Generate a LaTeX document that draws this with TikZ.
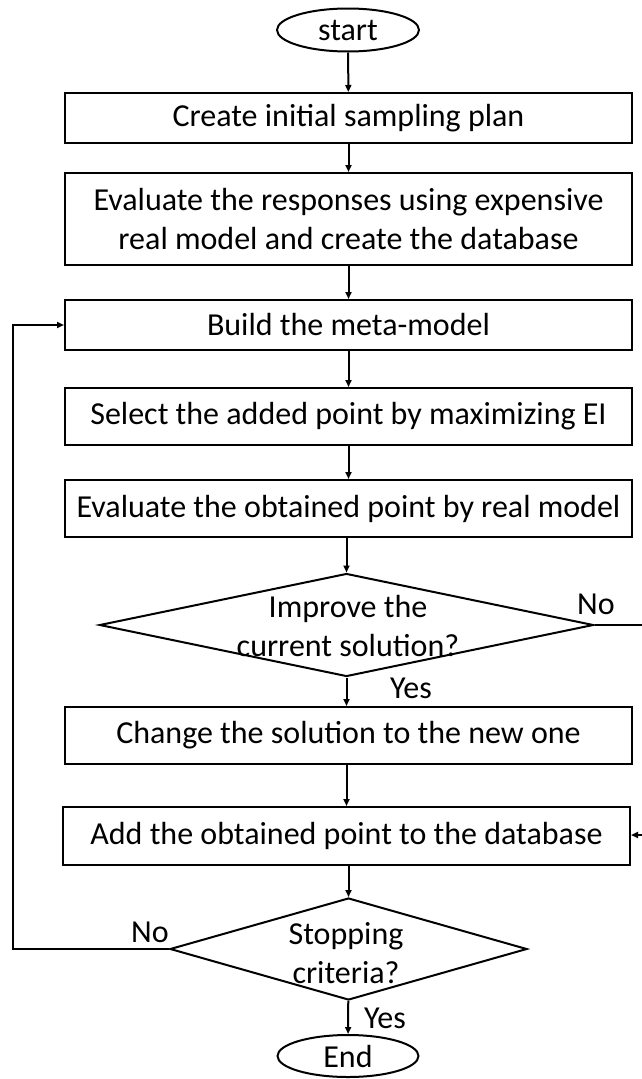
\documentclass[tikz,border=0pt]{standalone}
\usepackage{fontspec}
\setmainfont{Carlito}
\usetikzlibrary{shapes.geometric,arrows.meta}
\begin{document}
\begin{tikzpicture}[x=1pt,y=-1pt,
  every node/.style={font=\fontsize{32}{39}\selectfont},
  box/.style={draw,line width=2pt,rectangle,minimum width=567pt,inner sep=0pt,align=center},
  term/.style={draw,line width=2pt,ellipse,minimum width=142pt,minimum height=43pt,inner sep=0pt},
  dec/.style={draw,line width=2pt,diamond,inner sep=0pt},
  lbl/.style={align=center,inner sep=0pt},
  arr/.style={line width=2pt,-{Triangle[length=7pt,width=6pt]}},
  ln/.style={line width=2pt}]
\useasboundingbox (0,0) rectangle (641,1079);

\node[term] (start) at (348,30) {start};
\node[box,minimum height=50pt] (b1) at (348.5,118) {Create initial sampling plan};
\node[box,minimum height=92pt] (b2) at (348.5,219) {Evaluate the responses using expensive\\real model and create the database};
\node[box,minimum height=50pt] (b3) at (348.5,325) {Build the meta-model};
\node[box,minimum height=57pt] (b4) at (348.5,416.5) {Select the added point by maximizing EI};
\node[box,minimum height=57pt] (b5) at (348.5,508.5) {Evaluate the obtained point by real model};
\node[dec,minimum width=494pt,minimum height=103pt] (d1) at (346.5,625) {};
\node[lbl] (d1t) at (348,626) {Improve the\\current solution?};
\node[box,minimum height=57pt] (b6) at (348.5,735.5) {Change the solution to the new one};
\node[box,minimum height=58pt] (b7) at (346.5,836) {Add the obtained point to the database};
\node[dec,minimum width=357pt,minimum height=102pt] (d2) at (348.5,949) {};
\node[lbl] (d2t) at (346,953) {Stopping\\criteria?};
\node[term,minimum width=141pt,minimum height=42pt] (stop) at (348,1056) {End};

\node[lbl] (no1) at (596,604) {No};
\node[lbl] (yes1) at (411,688) {Yes};
\node[lbl] (no2) at (150,932) {No};
\node[lbl] (yes2) at (385,1018) {Yes};

\coordinate (r1) at (643,625);
\coordinate (r2) at (643,835);
\coordinate (l1) at (13,949);
\coordinate (l2) at (13,325);

\draw[arr] (start) -- (b1);
\draw[arr] (b1) -- (b2);
\draw[arr] (b2) -- (b3);
\draw[arr] (b3) -- (b4);
\draw[arr] (b4) -- (b5);
\draw[arr] (b5.south -| d1.north) -- (d1.north);
\draw[arr] (d1.south) -- (d1.south |- b6.north);
\draw[arr] (b6.south -| b7.north) -- (b7.north);
\draw[arr] (b7.south -| d2.north) -- (d2.north);
\draw[arr] (d2) -- (stop);
\draw[arr] (d1.east) -- (r1) -- (r2) -- (b7.east |- r2);
\draw[arr] (d2.west) -- (l1) -- (l2) -- (b3.west);
\end{tikzpicture}
\end{document}
